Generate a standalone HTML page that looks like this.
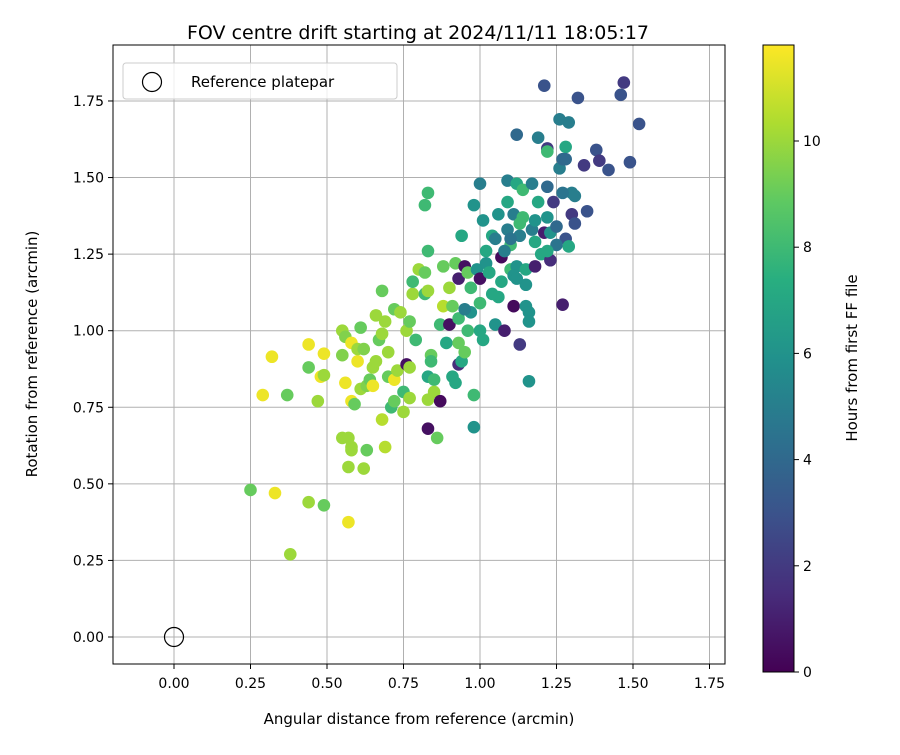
<!DOCTYPE html>
<html><head><meta charset="utf-8"><style>body{margin:0;background:#fff}svg{font-family:"DejaVu Sans","Liberation Sans",sans-serif}</style></head>
<body>
<svg id="c" width="900" height="750">
<defs><linearGradient id="vir" x1="0" y1="1" x2="0" y2="0">
<stop offset="0" stop-color="#440154"/><stop offset="0.125" stop-color="#472d7b"/><stop offset="0.25" stop-color="#3b528b"/><stop offset="0.375" stop-color="#2c728e"/><stop offset="0.5" stop-color="#21918c"/><stop offset="0.625" stop-color="#28ae80"/><stop offset="0.75" stop-color="#5ec962"/><stop offset="0.875" stop-color="#addc30"/><stop offset="1" stop-color="#fde725"/></linearGradient></defs>
<g id="grid"></g>
<g id="pts"></g>
<g id="axes"></g>
<text x="418" y="39" font-size="19" text-anchor="middle">FOV centre drift starting at 2024/11/11 18:05:17</text>
<text x="419" y="724" font-size="15" text-anchor="middle">Angular distance from reference (arcmin)</text>
<text transform="translate(37,354) rotate(-90)" font-size="15" text-anchor="middle">Rotation from reference (arcmin)</text>
<g>
<rect x="123" y="63" width="274" height="36" rx="3" fill="#fff" fill-opacity="0.8" stroke="#ccc"/>
<circle cx="152" cy="82" r="9.5" fill="none" stroke="#000" stroke-width="1.2"/>
<text x="191" y="87" font-size="15">Reference platepar</text></g>
<rect x="763" y="45" width="31" height="627" fill="url(#vir)" stroke="#000" stroke-width="1"/>
<g id="cb"></g>
<text transform="translate(857,358) rotate(-90)" font-size="15" text-anchor="middle">Hours from first FF file</text>
</svg>
<script>
const xTicks=[0,0.25,0.5,0.75,1.0,1.25,1.5,1.75];
const yTicks=[0,0.25,0.5,0.75,1.0,1.25,1.5,1.75];
const cbTicks=[0,2,4,6,8,10];
const ptX=[0.25,0.33,0.44,0.49,0.38,0.57,0.29,0.37,0.32,0.44,0.44,0.47,0.48,0.49,0.49,0.55,0.57,0.57,0.58,0.58,0.62,0.63,0.69,0.68,0.55,0.55,0.56,0.56,0.58,0.58,0.59,0.6,0.6,0.61,0.61,0.62,0.63,0.64,0.65,0.65,0.66,0.66,0.67,0.68,0.68,0.69,0.7,0.7,0.71,0.72,0.72,0.72,0.73,0.74,0.75,0.75,0.76,0.76,0.77,0.77,0.77,0.78,0.78,0.79,0.8,0.82,0.82,0.83,0.83,0.82,0.83,0.83,0.83,0.84,0.84,0.85,0.85,0.86,0.83,0.87,0.87,0.88,0.88,0.89,0.9,0.9,0.91,0.91,0.92,0.93,0.92,0.93,0.93,0.93,0.94,0.94,0.95,0.95,0.96,0.96,0.97,0.98,0.98,0.98,0.99,1.0,1.0,1.0,1.01,1.01,1.02,1.02,1.03,1.04,1.05,1.05,1.06,1.07,1.07,1.08,1.09,1.09,1.09,1.1,1.1,1.11,1.11,1.12,1.12,1.12,1.13,1.13,1.14,1.14,1.15,1.15,1.16,1.16,1.16,1.17,1.17,1.18,1.18,1.18,1.19,1.19,1.2,1.21,1.21,1.22,1.22,1.22,1.22,1.23,1.23,1.24,1.25,1.26,1.26,1.27,1.27,1.28,1.28,1.29,1.29,1.3,1.3,1.31,1.31,1.32,1.34,1.35,1.38,1.39,1.42,1.46,1.47,1.49,1.52,1.28,1.27,1.25,1.22,1.15,1.11,1.06,1.04,1.0,0.97,0.95,1.1,1.13,1.03,1.08,1.12,1.15];
const ptY=[0.48,0.47,0.44,0.43,0.27,0.375,0.79,0.79,0.915,0.88,0.955,0.77,0.85,0.925,0.855,0.65,0.65,0.555,0.62,0.61,0.55,0.61,0.62,0.71,1.0,0.92,0.83,0.98,0.77,0.96,0.76,0.9,0.94,0.81,1.01,0.94,0.82,0.84,0.82,0.88,0.9,1.05,0.97,1.13,0.99,1.03,0.85,0.93,0.75,0.77,1.07,0.84,0.87,1.06,0.8,0.735,0.89,1.0,1.03,0.78,0.88,1.12,1.16,0.97,1.2,1.19,1.12,1.13,1.26,1.41,1.45,0.85,0.775,0.92,0.9,0.84,0.8,0.65,0.68,0.77,1.02,1.08,1.21,0.96,1.02,1.14,1.08,0.85,0.83,0.89,1.22,1.17,1.04,0.96,1.31,0.9,0.93,1.21,1.0,1.19,1.14,1.41,0.79,0.685,1.2,1.09,1.48,1.17,1.36,0.97,1.26,1.22,1.19,1.31,1.02,1.3,1.38,1.24,1.16,1.0,1.49,1.42,1.33,1.2,1.28,1.08,1.38,1.64,1.48,1.21,1.31,0.955,1.46,1.37,1.08,1.2,1.06,1.03,0.835,1.33,1.48,1.21,1.29,1.36,1.42,1.63,1.25,1.8,1.32,1.37,1.47,1.595,1.585,1.32,1.23,1.42,1.34,1.53,1.69,1.56,1.085,1.6,1.3,1.275,1.68,1.45,1.38,1.35,1.44,1.76,1.54,1.39,1.59,1.555,1.525,1.77,1.81,1.55,1.675,1.56,1.45,1.28,1.26,1.15,1.18,1.11,1.12,1.0,1.06,1.07,1.3,1.35,1.19,1.26,1.17,1.28];
const ptH=[9,11.5,10,9,10,11.5,11.5,9,11.5,9,11.5,10,11.5,11.5,10,10,10,10,10,10,10,9,10.5,10.5,10,9.5,11.5,9.5,11.5,11.5,9,11.5,10,10,9,9.5,9.5,9,11.5,10,10,10,9,9,10,10,9,10,8,9,9,11.5,10,10,8,10,0.5,10,9,10,10,10,8,8,10,9,8,10,8,8,8,7,10,9,8,8,10,9,0.5,0.3,8,10.5,9,7,0.5,10,9,7,7,1.5,9,1,8,9,7,7,9,0.5,8,9,8,6,8,6,6,8,5,0.5,6,7,7,6,7,7,6,5,6,0.3,7,1,5,7,5,8,8,0.3,5,4,7,6,5,2,8,8,6,7,6,6,6,5,5,1,7,6,7,5,7,3,1,6,4,2,8,6,1.5,2,4,5,5,4,1,7,3,7,5,5,2,3,5,3,2,3,3,2,3,3,2,3,3,4,4.5,4.5,7,6,6,7,7,7,6,5,4.5,8,7,5,6];
const X0=174,XS=306,Y0=637,YS=306.3,CB0=672,CBS=53.1,VMAX=11.8;
const sx=v=>X0+v*XS, sy=v=>Y0-v*YS;
const NS='http://www.w3.org/2000/svg';
const stops=[[68,1,84],[71,45,123],[59,82,139],[44,114,142],[33,145,140],[40,174,128],[94,201,98],[173,220,48],[253,231,37]];
function vir(h){if(!isFinite(h))h=0;let t=Math.max(0,Math.min(1,h/VMAX))*8,i=Math.min(7,Math.floor(t)),f=t-i,a=stops[i],b=stops[i+1];return `rgb(${a.map((c,k)=>Math.round(c+(b[k]-c)*f)).join(',')})`;}
function mk(tag,at,parent){const e=document.createElementNS(NS,tag);for(const k in at)e.setAttribute(k,at[k]);parent.appendChild(e);return e;}
const grid=document.getElementById('grid'),axes=document.getElementById('axes'),pts=document.getElementById('pts'),cb=document.getElementById('cb');
xTicks.forEach(v=>{const l=mk('line',{x1:sx(v),x2:sx(v),y1:45,y2:664,stroke:'#b0b0b0','stroke-width':1},grid);
mk('line',{x1:sx(v),x2:sx(v),y1:664,y2:669,stroke:'#000'},axes);
const t=mk('text',{x:sx(v),y:688,'font-size':14,'text-anchor':'middle'},axes);t.textContent=v.toFixed(2);});
yTicks.forEach(v=>{const l=mk('line',{x1:113,x2:725,y1:sy(v),y2:sy(v),stroke:'#b0b0b0','stroke-width':1},grid);
mk('line',{x1:108,x2:113,y1:sy(v),y2:sy(v),stroke:'#000'},axes);
const t=mk('text',{x:104,y:sy(v)+5,'font-size':14,'text-anchor':'end'},axes);t.textContent=v.toFixed(2);});
mk('rect',{x:113,y:45,width:612,height:619,fill:'none',stroke:'#000'},axes);
const n=Math.min(ptX.length,ptY.length,ptH.length);
for(let i=0;i<n;i++){const c=mk('circle',{cx:sx(ptX[i]),cy:sy(ptY[i]),r:6.3,fill:vir(ptH[i])},pts);}
const refPt=mk('circle',{cx:sx(0),cy:sy(0),r:9.5,fill:'none',stroke:'#000','stroke-width':1.2},pts);


cbTicks.forEach(v=>{const y=CB0-v*CBS;mk('line',{x1:794,x2:799,y1:y,y2:y,stroke:'#000'},cb);const t=mk('text',{x:803,y:y+5,'font-size':14},cb);t.textContent=v;});
</script>
</body></html>
